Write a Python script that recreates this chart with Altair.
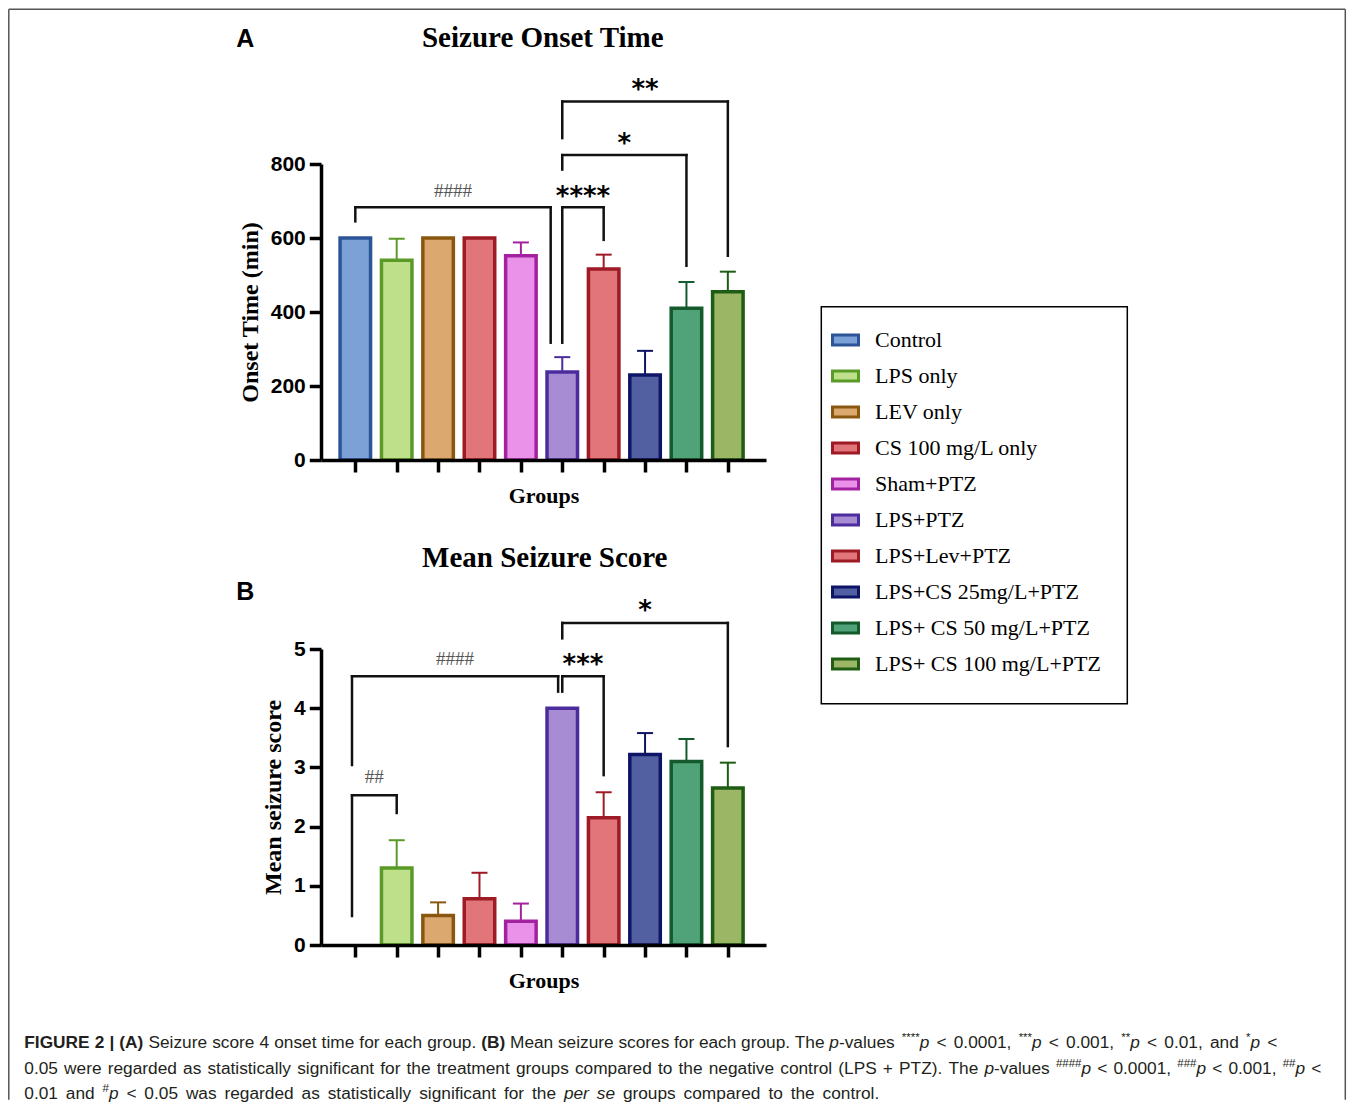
import re
import altair as alt
import pandas as pd

# ---------------- data ----------------
groups = ["Control", "LPS only", "LEV only", "CS 100 mg/L only", "Sham+PTZ",
          "LPS+PTZ", "LPS+Lev+PTZ", "LPS+CS 25mg/L+PTZ", "LPS+ CS 50 mg/L+PTZ",
          "LPS+ CS 100 mg/L+PTZ"]
onset_mean = [600, 540, 600, 600, 552, 238, 516, 230, 410, 455]
onset_top = [600, 598, 600, 600, 588, 278, 555, 295, 481, 509]      # mean + SD
score_mean = [0.0, 1.30, 0.50, 0.78, 0.40, 4.00, 2.15, 3.22, 3.10, 2.65]
score_top = [0.0, 1.77, 0.72, 1.22, 0.70, 4.00, 2.58, 3.58, 3.48, 3.08]  # mean + SD

fill_colors = ["#7ba1d6", "#bfe08a", "#dba86f", "#e1757a", "#ea91ea",
               "#a78bd3", "#e1757a", "#525fa0", "#50a379", "#9bb765"]
stroke_colors = ["#2b5597", "#5a9a26", "#8a5710", "#9e1b25", "#a3229f",
                 "#4b2c9d", "#9e1b25", "#0f1566", "#145a2c", "#1f5c14"]

# significance brackets: (from group idx, to group idx, top, left leg end, right leg end)
onset_brackets = [(0.0, 4.72, 683, 645, 317), (5.0, 6.0, 683, 317, 595),
                  (5.0, 8.0, 824, 785, 525), (5.0, 9.0, 969, 870, 552)]
onset_marks = [("####", 2.36, 728, "hash"), ("****", 5.5, 728, "star"),
               ("*", 6.5, 870, "star"), ("**", 7.0, 1015, "star")]
score_brackets = [(-0.08, 1.0, 2.53, 0.49, 2.23), (-0.08, 4.9, 4.54, 3.04, 4.28),
                  (5.0, 6.0, 4.54, 4.28, 2.87), (5.0, 9.0, 5.44, 5.18, 3.36)]
score_marks = [("##", 0.46, 2.83, "hash"), ("####", 2.41, 4.83, "hash"),
               ("***", 5.5, 4.83, "star"), ("*", 7.0, 5.74, "star")]

# caption runs: (text, style[, anchor x on the page])
caption_lines = [
    [("FIGURE 2 | (A)", "b"), (" Seizure score 4 onset time for each group. ", "n"), ("(B)", "b", 482),
     (" Mean seizure scores for each group. The ", "n"), ("p", "i", 830), ("-values ", "n"),
     ("****", "s"), ("p", "i"), (" < 0.0001, ", "n"), ("***", "s"), ("p", "i"),
     (" < 0.001, ", "n"), ("**", "s"), ("p", "i"), (" < 0.01, and ", "n"), ("*", "s"),
     ("p", "i"), (" <", "n")],
    [("0.05 were regarded as statistically significant for the treatment groups compared to the negative control (LPS + PTZ). The ", "n"),
     ("p", "i"), ("-values ", "n"), ("####", "s"), ("p", "i"), (" < 0.0001, ", "n"),
     ("###", "s"), ("p", "i"), (" < 0.001, ", "n"), ("##", "s"), ("p", "i"), (" <", "n")],
    [("0.01 and ", "n"), ("#", "s"), ("p", "i"),
     (" < 0.05 was regarded as statistically significant for the ", "n"), ("per se", "i"),
     (" groups compared to the control.", "n")],
]
caption_line_ends = [1278, 1322, 880]
caption_baselines = [1047, 1073, 1098]

# ---------------- styling ----------------
SERIF = "Liberation Serif"
SANS = "Liberation Sans"
OX, OY = 321.7, 163.3          # page position of panel A plot origin
W, H = 445, 296

ONE = pd.DataFrame({"k": [0]})


def panel(means, tops, brackets, marks, ydomain, yticks, ytitle):
    xax = alt.Axis(values=list(range(10)), labels=False, tickSize=12, tickWidth=3.5,
                   tickColor="black", domainColor="black", domainWidth=3.5, grid=False,
                   title="Groups", titleFont=SERIF, titleFontSize=22, titleFontWeight="bold",
                   titleColor="black", titlePadding=12, zindex=1)
    yax = alt.Axis(values=yticks, tickSize=11.7, tickWidth=3.5, tickColor="black",
                   domainColor="black", domainWidth=3.5, grid=False,
                   labelFont=SANS, labelFontWeight="bold", labelFontSize=21,
                   labelColor="black", labelPadding=4,
                   title=ytitle, titleFont=SERIF, titleFontSize=24, titleFontWeight="bold",
                   titleColor="black", titlePadding=8, zindex=1)
    X = alt.X("x:Q", scale=alt.Scale(domain=[-0.829, 9.922], nice=False, zero=False, padding=0),
              axis=xax)
    Y = alt.Y("y:Q", scale=alt.Scale(domain=ydomain, nice=False, zero=True, padding=0),
              axis=yax)

    bars_df = pd.DataFrame({"x": list(range(10)), "y": means, "group": groups})
    err_df = pd.DataFrame({"x": list(range(10)), "y": means, "y2": tops,
                           "ecol": stroke_colors})
    err_df = err_df[err_df["y2"] > err_df["y"]]
    cap_df = pd.DataFrame({"x": err_df["x"], "y": err_df["y2"], "ecol": err_df["ecol"]})

    seg = {"x": [], "x2": [], "y": [], "y2": []}
    for a, b, top, l_end, r_end in brackets:
        for xx, xx2, yy, yy2 in [(a, b, top, top), (a, a, top, l_end), (b, b, top, r_end)]:
            seg["x"].append(xx); seg["x2"].append(xx2)
            seg["y"].append(yy); seg["y2"].append(yy2)
    br_df = pd.DataFrame(seg)

    star_df = pd.DataFrame([{"x": m[1], "y": m[2], "label": m[0]} for m in marks if m[3] == "star"])
    hash_df = pd.DataFrame([{"x": m[1], "y": m[2], "label": m[0]} for m in marks if m[3] == "hash"])

    err = alt.Chart(err_df).mark_rule(strokeWidth=2).encode(
        x=X, y=Y, y2="y2:Q", color=alt.Color("ecol:N", scale=None))
    caps = alt.Chart(cap_df).mark_rule(strokeWidth=2, xOffset=-8, x2Offset=8).encode(
        x=X, x2="x:Q", y=Y, color=alt.Color("ecol:N", scale=None))
    bars = alt.Chart(bars_df).transform_filter("datum.y > 0").mark_bar(
        width=30.5, strokeWidth=3.5).encode(
        x=X, y=Y,
        fill=alt.Fill("group:N", scale=alt.Scale(domain=groups, range=fill_colors),
                      legend=alt.Legend(title=None)),
        stroke=alt.Stroke("group:N", scale=alt.Scale(domain=groups, range=stroke_colors),
                          legend=alt.Legend(title=None)))
    br = alt.Chart(br_df).mark_rule(strokeWidth=2.5, color="#111111", strokeCap="square").encode(
        x=X, x2="x2:Q", y=Y, y2="y2:Q")
    stars = alt.Chart(star_df).mark_text(font="DejaVu Sans", fontWeight="bold", fontSize=26,
                                         color="black", baseline="middle", dy=6).encode(
        x=X, y=Y, text="label:N")
    hashes = alt.Chart(hash_df).mark_text(font=SERIF, fontSize=19, color="#555555",
                                          baseline="middle").encode(
        x=X, y=Y, text="label:N")
    return [err, caps, bars, br, stars, hashes]


def deco_text(txt, xp, yp, font, size, weight="normal", color="black", dy=0):
    return alt.Chart(ONE).mark_text(text=txt, font=font, fontSize=size, fontWeight=weight,
                                    color=color, align="center", baseline="middle",
                                    dy=dy).encode(x=alt.value(xp - OX), y=alt.value(yp - OY))


# ---------------- decorations (titles, letters, legend frame, border) ----------------
deco = [
    deco_text("A", 246, 37, SANS, 25, weight="bold", dy=1),
    deco_text("Seizure Onset Time", 543.5, 37, SERIF, 29, weight="bold"),
    deco_text("B", 246, 590, SANS, 25, weight="bold", dy=1),
    deco_text("Mean Seizure Score", 545.5, 557, SERIF, 29, weight="bold"),
    alt.Chart(ONE).mark_rect(fillOpacity=0, stroke="black", strokeWidth=1.5).encode(
        x=alt.value(822 - OX), x2=alt.value(1128 - OX), y=alt.value(306 - OY), y2=alt.value(703 - OY)),
    alt.Chart(ONE).mark_rule(color="#555555", strokeWidth=1.5).encode(
        x=alt.value(9.5 - OX), x2=alt.value(1346 - OX), y=alt.value(8.5 - OY)),
    alt.Chart(ONE).mark_rule(color="#555555", strokeWidth=1.5).encode(
        x=alt.value(9.5 - OX), y=alt.value(8.5 - OY), y2=alt.value(1099 - OY)),
    alt.Chart(ONE).mark_rule(color="#555555", strokeWidth=1.5).encode(
        x=alt.value(1346 - OX), y=alt.value(8.5 - OY), y2=alt.value(1099 - OY)),
]

# ---------------- caption (word-by-word placement) ----------------
REG = {' ': 278, '.': 278, ',': 278, '(': 333, ')': 333, '+': 584, '-': 333, '<': 584,
       '*': 389, '#': 556, '|': 260,
       'a': 556, 'b': 556, 'c': 500, 'd': 556, 'e': 556, 'f': 278, 'g': 556, 'h': 556,
       'i': 222, 'j': 222, 'k': 500, 'l': 222, 'm': 833, 'n': 556, 'o': 556, 'p': 556,
       'q': 556, 'r': 333, 's': 500, 't': 278, 'u': 556, 'v': 500, 'w': 722, 'x': 500,
       'y': 500, 'z': 500, 'A': 667, 'B': 667, 'C': 722, 'D': 722, 'E': 667, 'F': 611,
       'G': 778, 'H': 722, 'I': 278, 'L': 556, 'M': 833, 'P': 667, 'R': 722, 'S': 667,
       'T': 611, 'U': 722, 'Z': 611}
BOLD = {' ': 278, '(': 333, ')': 333, '|': 280, 'A': 722, 'B': 722, 'E': 667, 'F': 611,
        'G': 778, 'I': 278, 'R': 722, 'U': 722}
CAP_SIZE, SUP_SIZE = 17.3, 11.5


def tw(s, kind):
    table = BOLD if kind == "b" else REG
    size = SUP_SIZE if kind == "s" else CAP_SIZE
    return sum(table.get(c, REG.get(c, 556)) for c in s) / 1000.0 * size


rows = {"n": [], "b": [], "i": [], "s": []}
for runs, end, base in zip(caption_lines, caption_line_ends, caption_baselines):
    # split the line into chunks, each starting at a known page x
    chunks = [[25.0, []]]
    for run in runs:
        txt, kind = run[0], run[1]
        if len(run) > 2:
            chunks.append([float(run[2]), []])
        for tok in re.findall(r" +|[^ ]+", txt):
            chunks[-1][1].append((tok.startswith(" "), tok, kind))
    for ci, (start, pieces) in enumerate(chunks):
        stop = chunks[ci + 1][0] if ci + 1 < len(chunks) else end
        if ci + 1 == len(chunks):
            while pieces and pieces[-1][0]:
                pieces.pop()
        natural = sum(tw(tok, kind) for _, tok, kind in pieces)
        nsp = sum(len(tok) for is_sp, tok, _ in pieces if is_sp)
        extra = (stop - start - natural) / nsp if nsp else 0.0
        x = start
        for is_sp, tok, kind in pieces:
            if is_sp:
                x += tw(tok, kind) + extra * len(tok)
            else:
                rows[kind].append({"px": x - OX, "py": base - OY, "t": tok})
                x += tw(tok, kind)

CX = alt.X("px:Q", scale=alt.Scale(domain=[0, W], nice=False, zero=False, padding=0), axis=None)
CY = alt.Y("py:Q", scale=alt.Scale(domain=[0, H], nice=False, zero=False, padding=0, reverse=True),
           axis=None)
cap_style = {"n": dict(fontWeight="normal", fontStyle="normal", fontSize=CAP_SIZE),
             "b": dict(fontWeight="bold", fontStyle="normal", fontSize=CAP_SIZE),
             "i": dict(fontWeight="normal", fontStyle="italic", fontSize=CAP_SIZE),
             "s": dict(fontWeight="normal", fontStyle="normal", fontSize=SUP_SIZE, dy=-6.5)}
caption_layers = [
    alt.Chart(pd.DataFrame(rows[k])).mark_text(font=SANS, color="#231f20", align="left",
                                               baseline="alphabetic", **cap_style[k]).encode(
        x=CX, y=CY, text="t:N")
    for k in ["n", "b", "i", "s"]
]

# ---------------- panels ----------------
panel_a_core = alt.layer(*(panel(onset_mean, onset_top, onset_brackets, onset_marks,
                                 [0, 800], [0, 200, 400, 600, 800], "Onset Time (min)") + deco))
panel_a = alt.layer(panel_a_core, alt.layer(*caption_layers)).resolve_scale(
    x="independent", y="independent").properties(width=W, height=H)
panel_b = alt.layer(*panel(score_mean, score_top, score_brackets, score_marks,
                           [0, 5], [0, 1, 2, 3, 4, 5], "Mean seizure score")
                    ).properties(width=W, height=H)

chart = alt.vconcat(panel_a, panel_b, spacing=189, bounds="flush").properties(
    padding=0, background="white"
).configure_view(stroke=None).configure_legend(
    orient="none", legendX=510, legendY=161.5, padding=0,
    symbolType="M-1,-0.38H1V0.38H-1Z", symbolSize=676, symbolStrokeWidth=3,
    labelFont=SERIF, labelFontSize=22, labelColor="black", labelOffset=15,
    rowPadding=10, labelLimit=400
)

chart.save("out.html", embed_options={"renderer": "svg", "actions": False})
